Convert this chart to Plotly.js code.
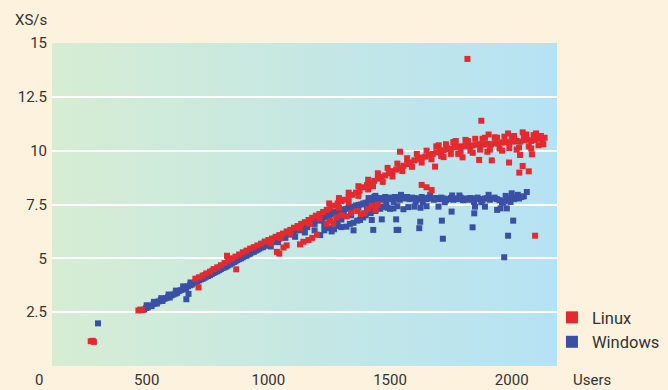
<!DOCTYPE html>
<html><head><meta charset="utf-8">
<script src="https://cdn.plot.ly/plotly-3.0.1.min.js"></script>
<style>html,body{margin:0;padding:0;background:#fdf2de;}#chart{width:668px;height:390px;}</style>
</head><body><div id="chart"></div>
<script>
// ---- Data ----
const linuxX = [270,283,278, 466,474,482, 713,868,830,
 700,715,730,745,760,775,790,805,820,835,850,865,880,895,910,925,940,955,970,985,1000,1015,1030,1045,1060,1075,1090,1105,1120,1135,1150,1165,1180,1195,1210,1225,1240,1255,1270,1285,1300,1315,1330,1345,1360,1375,1390,1405,1420,1435,1450,1465,1480,1495,1510,1525,1540,1555,1570,1585,1600,1615,1630,1645,1660,1675,1690,1705,1720,1735,1750,1765,1780,1795,1810,1825,1840,1855,1870,1885,1900,1915,1930,1945,1960,1975,1990,2005,2020,2035,2050,2065,2080,2095,2110,2125,2135,
 1250,1290,1330,1370,1410,1450,1490,1530,1570,1610,1650,1690,1730,1770,1810,1850,1890,1930,1970,2010,2050,2090,2120,
 1430,1470,1510,1550,1590,1630,1670,1710,1750,1790,1830,1870,1910,1950,1990,2030,2070,2110,
 1010,1050,1090,1130,1170,1210,1290,1330,1370,1410,
 1700,1720,1760,1780,1820,1840,1880,1900,1940,1960,2000,2020,2060,2080,2100,2130,1905,1985,2045,
 1035,1045,1062,1075,1130,1144,1165,1180,1200,1240,1255,1267,1280,1300,1322,1340,1365,1380,1395,1410,1425,1440,1450,
 1541,1685,1630,1650,1671,1818,1875,1798,1866,1918,1989,2034,2083,2045,2031,2070,2096];
const linuxY = [1.15,1.12,1.17, 2.58,2.62,2.6, 3.65,4.49,5.12,
 4.05,4.12,4.2,4.3,4.38,4.5,4.58,4.68,4.78,4.88,5.0,5.08,5.18,5.28,5.36,5.45,5.52,5.6,5.68,5.78,5.85,5.92,6.0,6.08,6.15,6.25,6.32,6.42,6.5,6.6,6.68,6.78,6.88,6.98,7.06,7.15,7.25,7.35,7.45,7.55,7.65,7.72,7.85,7.95,8.05,8.15,8.3,8.4,8.5,8.6,8.7,8.78,8.85,8.95,9.05,9.12,9.2,9.3,9.38,9.45,9.55,9.6,9.68,9.72,9.8,9.85,9.92,9.98,10.02,10.08,10.1,10.15,10.18,10.2,10.22,10.2,10.25,10.28,10.3,10.28,10.32,10.3,10.35,10.32,10.38,10.4,10.38,10.42,10.45,10.42,10.48,10.5,10.45,10.5,10.55,10.52,10.6,
 7.55,7.8,8.05,8.35,8.65,8.95,9.2,9.4,9.65,9.85,10.0,10.2,10.3,10.45,10.5,10.55,10.6,10.62,10.65,10.68,10.7,10.72,10.68,
 8.35,8.55,8.8,9.05,9.25,9.45,9.6,9.75,9.85,9.95,10.0,10.05,10.05,10.1,10.12,10.15,10.2,10.25,
 5.7,5.95,6.15,6.4,6.6,6.85,7.35,7.6,7.9,8.2,
 10.25,9.7,10.4,9.85,10.45,9.9,10.55,9.95,10.6,10.0,10.65,10.05,10.75,10.1,10.8,10.3,10.75,10.8,10.85,
 5.3,5.22,5.5,5.6,5.65,5.77,5.85,5.95,6.1,6.6,6.75,6.63,6.9,7.0,6.95,7.1,7.2,7.05,7.1,7.3,7.45,7.25,7.5,
 9.95,9.26,8.41,8.3,8.17,14.26,11.39,9.69,9.57,9.55,9.45,9.8,9.83,9.29,8.98,9.04,6.05];

const windowsX = [300,663,672,
 490,498,505,512,520,528,535,542,550,558,565,572,580,588,595,602,610,618,625,632,640,648,655,662,670,678,685,692,700,708,715,722,730,738,745,752,760,768,775,782,790,798,805,812,820,828,835,842,850,858,865,872,880,888,895,902,910,918,925,932,940,948,955,962,970,978,985,992,1000,
 500,530,560,590,620,650,680,710,740,770,800,830,860,890,920,950,980,
 1008,1015,1022,1030,1038,1045,1052,1060,1068,1075,1082,1090,1098,1105,1112,1120,1128,1135,1142,1150,1158,1165,1172,1180,1188,1195,1202,1210,1218,1225,1232,1240,1248,1255,1262,1270,1278,1285,1292,1300,1310,1320,1330,1340,1350,1360,1370,1380,1390,1400,1410,1420,1430,1440,1450,
 1010,1040,1070,1100,1130,1160,1190,1220,1250,1280,1310,1340,1370,
 1405,1415,1425,1435,1445,1412,1430,1420,1440,
 1110,1150,1190,1213,1230,1250,1270,1285,1300,1321,1335,1350,1365,1377,1390,1400,1420,1440,1460,1480,1500,1300,1283,1340,1350,1260,1230,
 1460,1470,1480,1490,1500,1510,1520,1530,1540,1550,1560,1570,1580,1590,1600,1610,1620,1630,1640,1650,1660,1670,1680,1690,1700,1710,1720,1730,1740,1750,1760,1770,1780,1790,1800,1810,1820,1830,1840,1850,1860,1870,1880,1890,1900,1910,1920,1930,1940,1950,1960,1970,1980,1990,2000,2010,2020,2030,2040,2050,2062,2000,1975,
 1485,1545,1605,1665,1725,1785,1845,1905,1965,2025,1515,1635,1755,1875,1995,
 1470,1490,1514,1530,1555,1575,1600,1625,1650,1699,1753,1849,1890,1846,1954,1980,1940,
 1466,1525,1624,1713,2006,1534,1620,1839,1717,1985,1969,1431,1527,1425];
const windowsY = [1.98,3.1,3.35,
 2.62,2.7,2.72,2.8,2.78,2.88,2.92,2.9,3.0,3.05,3.02,3.12,3.15,3.2,3.18,3.28,3.32,3.36,3.4,3.48,3.52,3.55,3.62,3.6,3.7,3.75,3.78,3.85,3.88,3.92,3.98,4.02,4.05,4.1,4.15,4.18,4.22,4.28,4.32,4.36,4.4,4.45,4.5,4.55,4.58,4.62,4.68,4.72,4.78,4.82,4.86,4.92,4.96,5.0,5.05,5.1,5.12,5.18,5.22,5.28,5.3,5.36,5.4,5.45,5.5,5.52,5.58,5.62,5.66,
 2.82,2.98,3.15,3.32,3.5,3.7,3.88,4.05,4.22,4.42,4.58,4.75,4.95,5.12,5.3,5.5,5.68,
 5.7,5.75,5.8,5.82,5.9,5.92,5.98,6.0,6.06,6.1,6.15,6.18,6.22,6.28,6.3,6.36,6.4,6.42,6.48,6.52,6.55,6.6,6.62,6.68,6.72,6.75,6.8,6.82,6.88,6.9,6.95,6.98,7.02,7.05,7.1,7.12,7.15,7.18,7.22,7.25,7.28,7.3,7.35,7.38,7.4,7.45,7.48,7.5,7.55,7.58,7.6,7.65,7.68,7.7,7.72,
 5.55,5.75,5.95,6.1,6.3,6.45,6.6,6.75,6.88,7.0,7.15,7.25,7.35,
 7.3,7.45,7.75,7.85,7.5,7.8,7.35,7.15,7.9,
 6.0,6.2,6.3,6.08,6.3,6.4,6.35,6.5,6.45,6.47,6.6,6.65,6.75,6.78,6.9,7.0,7.1,7.2,7.3,7.4,7.3,6.8,6.65,7.0,6.3,6.25,6.55,
 7.8,7.72,7.85,7.78,7.82,7.75,7.85,7.8,7.72,7.82,7.78,7.85,7.75,7.82,7.8,7.72,7.78,7.85,7.8,7.75,7.82,7.78,7.72,7.8,7.75,7.82,7.78,7.7,7.75,7.8,7.72,7.78,7.75,7.82,7.7,7.78,7.72,7.8,7.75,7.78,7.82,7.75,7.7,7.78,7.8,7.72,7.78,7.82,7.75,7.7,7.6,7.65,7.72,7.78,7.85,7.75,7.82,7.78,7.85,7.88,8.08,8.02,7.9,
 7.6,7.95,7.62,7.95,7.6,7.92,7.62,7.95,7.58,7.95,7.62,7.6,7.92,7.6,7.62,
 7.4,7.35,7.32,7.42,7.28,7.38,7.4,7.35,7.42,7.4,7.17,7.4,7.4,7.09,7.32,7.32,7.25,
 6.81,6.81,6.7,6.75,6.75,6.32,6.4,6.44,5.91,6.05,5.05,6.32,6.32,6.78];

const xTicks = [500, 1000, 1500, 2000];
const yTicks = [2.5, 5, 7.5, 10, 12.5, 15];
const yTickText = ['2.5', '5', '7.5', '10', '12.5', '15'];

// ---- Chart ----
const RED = '#e42a2f', BLUE = '#3a4fa6';
const font = 'Roboto, "DejaVu Sans", sans-serif';
const grad = 'data:image/svg+xml;utf8,' + encodeURIComponent(
 '<svg xmlns="http://www.w3.org/2000/svg" width="100" height="100" preserveAspectRatio="none">' +
 '<defs><linearGradient id="g" x1="0" x2="1" y1="0" y2="0">' +
 '<stop offset="0" stop-color="#d6edd3"/><stop offset="1" stop-color="#b5e2f4"/></linearGradient></defs>' +
 '<rect width="100" height="100" fill="url(#g)"/></svg>');

const traces = [
 {x: windowsX, y: windowsY, name: 'Windows', type: 'scatter', mode: 'markers',
  marker: {color: BLUE, size: 6, symbol: 'square'}, legendrank: 2},
 {x: linuxX, y: linuxY, name: 'Linux', type: 'scatter', mode: 'markers',
  marker: {color: RED, size: 6, symbol: 'square'}, legendrank: 1}
];

const layout = {
 width: 668, height: 390,
 margin: {l: 52, r: 111, t: 43, b: 24, autoexpand: false},
 paper_bgcolor: '#fdf2de', plot_bgcolor: 'rgba(0,0,0,0)',
 font: {family: font, size: 15, color: '#333'},
 images: [{source: grad, xref: 'paper', yref: 'paper', x: 0, y: 1, sizex: 1, sizey: 1,
   sizing: 'stretch', xanchor: 'left', yanchor: 'top', layer: 'below'}],
 xaxis: {range: [111, 2186], tickvals: xTicks, showgrid: false, zeroline: false, showline: false,
   ticks: '', ticklabelstandoff: 3, tickfont: {size: 15, color: '#333'}, automargin: false},
 yaxis: {range: [0, 15], tickvals: yTicks, ticktext: yTickText, showgrid: true, gridcolor: '#ffffff',
   gridwidth: 2, zeroline: false, showline: false, ticks: '', ticklabelstandoff: 4,
   tickfont: {size: 15, color: '#333'}, automargin: false},
 showlegend: true,
 legend: {x: 0.99, y: 0.204, xanchor: 'left', yanchor: 'top', bgcolor: 'rgba(0,0,0,0)',
   font: {size: 16.5, color: '#333'}, itemsizing: 'constant', tracegroupgap: 0},
 annotations: [
  {text: 'XS/s', xref: 'paper', yref: 'paper', x: -0.077, y: 1.071, xanchor: 'left', yanchor: 'middle',
   showarrow: false, font: {size: 15, color: '#333'}},
  {text: '0', xref: 'paper', yref: 'paper', x: -0.014, y: -0.043, xanchor: 'right', yanchor: 'middle',
   showarrow: false, font: {size: 15, color: '#333'}},
  {text: 'Users', xref: 'paper', yref: 'paper', x: 1.028, y: -0.043, xanchor: 'left', yanchor: 'middle',
   showarrow: false, font: {size: 15, color: '#333'}}
 ]
};
Plotly.newPlot('chart', traces, layout, {displayModeBar: false, staticPlot: true});
</script></body></html>
